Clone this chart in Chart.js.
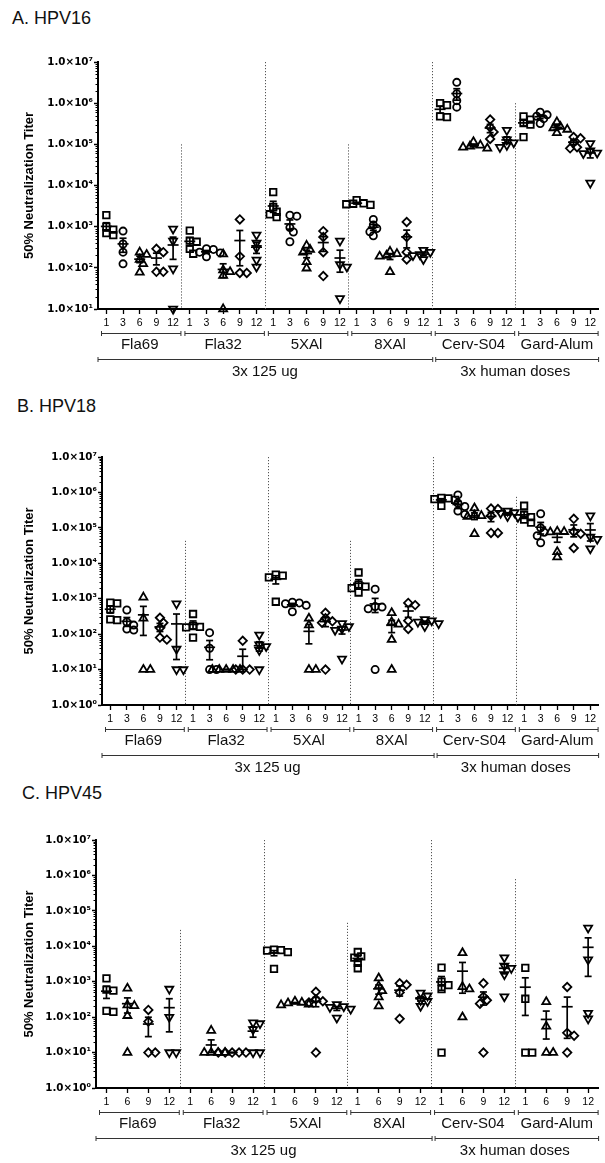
<!DOCTYPE html>
<html><head><meta charset="utf-8">
<script src="https://cdn.jsdelivr.net/npm/chart.js@4"></script>
<style>
html,body{margin:0;padding:0;background:#fff;width:605px;height:1163px;overflow:hidden;position:relative}
canvas{position:absolute;left:0}
.ttl{position:absolute;font-family:"Liberation Sans",Arial,sans-serif;font-size:18px;line-height:18px;color:#111;white-space:nowrap}
</style></head><body>
<div class="ttl" style="left:12px;top:9px">A. HPV16</div>
<div class="ttl" style="left:17px;top:397px">B. HPV18</div>
<div class="ttl" style="left:22px;top:784px">C. HPV45</div>
<canvas id="cA" width="605" height="337" style="top:48px"></canvas>
<canvas id="cB" width="605" height="338" style="top:443px"></canvas>
<canvas id="cC" width="605" height="338" style="top:826px"></canvas>
<script>
// ---------------- DATA ----------------
const groups = ['Fla69', 'Fla32', '5XAl', '8XAl', 'Cerv-S04', 'Gard-Alum'];
const wideLabels = ['3x 125 ug', '3x human doses'];
const monthsAB = ['1', '3', '6', '9', '12'];
const monthsC = ['1', '6', '9', '12'];
const yTicksA = [1e1, 1e2, 1e3, 1e4, 1e5, 1e6, 1e7];
const yTicksBC = [1e0, 1e1, 1e2, 1e3, 1e4, 1e5, 1e6, 1e7];

// A. HPV16 — titers per month (1,3,6,9,12) per group
const hpv16_Fla69 = [[1900,1000,850,700,620],[780,380,240,125],[240,210,160,125,78],[290,240,80,80],[880,450,95,10]];
const hpv16_Fla32 = [[800,460,430,290,220],[290,280,240,230,185],[215,88,80,65,10],[1500,190,75,75],[630,400,300,155,105]];
const hpv16_5XAl = [[6900,3000,2300,2000,1700],[1900,1800,950,740,430],[350,280,240,140,98],[780,560,240,63],[450,120,105,18]];
const hpv16_8XAl = [[4400,3700,3600,3500,3400],[1500,1100,900,750,600],[250,220,200,190,80],[1300,560,240,160],[270,240,210,200,160]];
const hpv16_Cerv = [[1000000,900000,480000,460000],[3200000,1700000,1150000,800000],[115000,95000,90000,85000,80000],[400000,260000,200000,135000],[220000,130000,110000,95000,85000]];
const hpv16_Gard = [[480000,400000,330000,300000,150000],[600000,520000,480000,420000,320000],[350000,270000,250000,230000,190000],[150000,140000,110000,85000,80000],[105000,70000,62000,60000,11500]];
const hpv16_dividerTops = [1e5, 1e7, 1e5, 1e7, 1e6];

// B. HPV18
const hpv18_Fla69 = [[780,740,500,260,250],[480,220,180,140,130],[1100,280,10,10],[290,210,150,80,70],[720,38,10,10]];
const hpv18_Fla32 = [[370,170,160,155,80],[110,40,10,10],[10,10,10,10,10],[65,10,10,10],[95,50,45,35,10]];
const hpv18_5XAl = [[4800,4500,4000,820],[800,760,720,650,430],[280,180,10,10],[400,280,230,210,10],[200,165,140,130,20]];
const hpv18_8XAl = [[5500,2500,2200,2000,1500],[1860,600,580,520,10],[400,220,190,70,10],[760,660,240,140],[260,240,220,200,165]];
const hpv18_Cerv = [[700000,680000,650000,620000,420000],[850000,500000,400000,300000,240000],[360000,230000,220000,210000,68000],[350000,340000,220000,72000,72000],[300000,270000,260000,210000,200000]];
const hpv18_Gard = [[420000,240000,200000,170000,140000],[250000,100000,75000,60000,38000],[80000,78000,76000,21000,15000],[180000,78000,68000,27000],[220000,55000,48000,26000]];
const hpv18_dividerTops = [4.3e4, 1e7, 4.3e4, 1e7, 7.5e5];

// C. HPV45 — months 1,6,9,12
const hpv45_Fla69 = [[1250,600,560,150,140],[650,220,210,110,10],[160,75,10,10],[620,100,10,10]];
const hpv45_Fla32 = [[],[42,10,10,10,10],[10,10,10,10,10],[70,66,45,10,10]];
const hpv45_5XAl = [[8000,7800,7500,6800,2300],[280,260,250,230,220],[520,320,280,260,10],[230,200,190,170,95]];
const hpv45_8XAl = [[6900,5200,4800,3400,2400],[1260,760,550,370,205],[900,820,500,90],[480,400,300,280,205]];
const hpv45_Cerv = [[2500,1000,800,620,10],[6500,720,620,100],[900,380,300,240,10],[4800,2800,2400,1600,380]];
const hpv45_Gard = [[2450,330,10,10],[270,55,10,10],[710,36,30,10],[33000,4200,130,90]];
const hpv45_dividerTops = [2.9e4, 1e7, 4.6e4, 1e7, 7.9e5];

// ---------------- DRAWING ----------------
const FONT = '"Liberation Sans", Arial, sans-serif';
const SUP = {'0':'⁰','1':'¹','2':'²','3':'³','4':'⁴','5':'⁵','6':'⁶','7':'⁷','8':'⁸','9':'⁹'};
const SHAPES = {'1':['rect',4.6,0],'3':['circle',3.6,0],'6':['triangle',4.6,0],'9':['rectRot',4.2,0],'12':['triangle',4.6,180]};

function swarm(slots, pxDec, slotPx) {
  const STEP = 3.5, D = 5, MAXK = 4;
  return slots.map(vals => {
    const placed = [];
    return vals.map(v => {
      const y = Math.log10(v) * pxDec;
      let best = 0, bestD = -1;
      for (let k = 0; k <= MAXK * 2; k++) {
        const c = k === 0 ? 0 : (k % 2 ? 1 : -1) * Math.ceil(k / 2) * STEP;
        const md = placed.length ? Math.min(...placed.map(p => Math.hypot(p.x - c, p.y - y))) : Infinity;
        if (md >= D) { best = c; bestD = md; break; }
        if (md > bestD) { bestD = md; best = c; }
      }
      placed.push({x: best, y});
      return best / slotPx;
    });
  });
}

function line(ctx, x1, y1, x2, y2) { ctx.beginPath(); ctx.moveTo(x1, y1); ctx.lineTo(x2, y2); ctx.stroke(); }

const dividerPlugin = {
  id: 'dividers',
  beforeDatasetsDraw(chart, args, opts) {
    const xs = chart.scales.xl, ys = chart.scales.y, ctx = chart.ctx;
    ctx.save(); ctx.strokeStyle = '#555'; ctx.lineWidth = 1; ctx.setLineDash([1.2, 1.8]);
    opts.tops.forEach((t, i) => {
      const x = Math.round(xs.getPixelForValue((i + 1) * opts.per)) + 0.5;
      line(ctx, x, ys.getPixelForValue(t), x, ys.bottom);
    });
    ctx.restore();
  }
};

const errPlugin = {
  id: 'errbars',
  afterDatasetsDraw(chart, args, opts) {
    const xs = chart.scales.xl, ys = chart.scales.y, ctx = chart.ctx;
    ctx.save(); ctx.strokeStyle = '#000'; ctx.lineWidth = 1.7;
    opts.slots.forEach((vals, s) => {
      if (vals.length < 2) return;
      const mean = vals.reduce((a, b) => a + b, 0) / vals.length;
      const sd = Math.sqrt(vals.reduce((a, b) => a + (b - mean) ** 2, 0) / (vals.length - 1));
      const sem = sd / Math.sqrt(vals.length);
      const x = xs.getPixelForValue(s + 0.5);
      const lo = Math.max(mean - sem, ys.min), hi = mean + sem;
      const ym = ys.getPixelForValue(mean), yl = ys.getPixelForValue(lo), yh = ys.getPixelForValue(hi);
      line(ctx, x - 5.5, ym, x + 5.5, ym);
      line(ctx, x, yh, x, yl);
      line(ctx, x - 3.5, yh, x + 3.5, yh);
      line(ctx, x - 3.5, yl, x + 3.5, yl);
    });
    ctx.restore();
  }
};

const annoPlugin = {
  id: 'anno',
  afterDraw(chart, args, opts) {
    const xs = chart.scales.xl, ys = chart.scales.y, ctx = chart.ctx;
    ctx.save();
    ctx.strokeStyle = '#000'; ctx.lineWidth = 1;
    const e0 = Math.round(Math.log10(ys.min)), e1 = Math.round(Math.log10(ys.max));
    for (let e = e0; e < e1; e++) for (let k = 2; k <= 9; k++) {
      const y = Math.round(ys.getPixelForValue(k * Math.pow(10, e))) + 0.5;
      line(ctx, ys.right - 2.5, y, ys.right, y);
    }
    const b = ys.bottom;
    ctx.strokeStyle = '#333'; ctx.lineWidth = 1;
    ctx.fillStyle = '#111'; ctx.textAlign = 'center'; ctx.textBaseline = 'middle';
    ctx.font = '15px ' + FONT;
    const br = (x1, x2, y) => { line(ctx, x1, y, x2, y); line(ctx, x1, y - 2.5, x1, y + 2.5); line(ctx, x2, y - 2.5, x2, y + 2.5); };
    groups.forEach((g, i) => {
      const xL = xs.getPixelForValue(i * opts.per), xR = xs.getPixelForValue((i + 1) * opts.per);
      br(xL + 3.5, xR - 0.5, Math.round(b + 24) + 0.5);
      ctx.fillText(g, (xL + xR) / 2, b + 36);
    });
    const split = xs.getPixelForValue(4 * opts.per);
    const yW = Math.round(b + 50) + 0.5;
    br(xs.getPixelForValue(0), split + 1, yW);
    br(split + 4, xs.getPixelForValue(6 * opts.per), yW);
    ctx.fillText(wideLabels[0], (xs.getPixelForValue(0) + split) / 2, b + 63);
    ctx.fillText(wideLabels[1], (split + xs.getPixelForValue(6 * opts.per)) / 2, b + 63);
    ctx.restore();
  }
};

function fmt(v) {
  const e = Math.round(Math.log10(v));
  return '1.0×10' + String(e).split('').map(c => SUP[c]).join('');
}

function makeChart(id, cfg) {
  const months = cfg.months, per = months.length, n = per * groups.length;
  const xLabels = [];
  groups.forEach(() => xLabels.push(...months));
  const slots = [];
  cfg.data.forEach(grp => grp.forEach(s => slots.push(s)));
  const decades = Math.log10(cfg.yTicks[cfg.yTicks.length - 1] / cfg.yTicks[0]);
  const offs = swarm(slots, cfg.plotH / decades, cfg.plotW / n);
  const datasets = months.map((m, mi) => {
    const st = SHAPES[m];
    const pts = [];
    cfg.data.forEach((grp, gi) => {
      const s = gi * per + mi;
      grp[mi].forEach((v, i) => pts.push({x: s + 0.5 + offs[s][i], y: v}));
    });
    return {label: m, data: pts, xAxisID: 'xl', yAxisID: 'y', pointStyle: st[0], pointRadius: st[1],
      pointRotation: st[2], pointBorderColor: '#000', pointBackgroundColor: 'rgba(0,0,0,0)',
      pointBorderWidth: 1.8, showLine: false, clip: false};
  });
  return new Chart(document.getElementById(id), {
    type: 'scatter',
    data: {labels: xLabels, datasets},
    plugins: [dividerPlugin, errPlugin, annoPlugin],
    options: {
      responsive: false, animation: false, devicePixelRatio: 1,
      layout: {padding: {top: 14, right: 1, left: 0, bottom: 0}},
      plugins: {
        legend: {display: false}, tooltip: {enabled: false},
        dividers: {tops: cfg.dividers, per},
        errbars: {slots},
        anno: {per}
      },
      scales: {
        x: {type: 'category', labels: xLabels, offset: true, position: 'bottom',
          grid: {drawOnChartArea: false, drawTicks: true, tickLength: 5, tickColor: '#000', tickWidth: 1.3, offset: false},
          border: {display: true, color: '#000', width: 2},
          ticks: {color: '#000', font: {family: FONT, size: 10.5}, padding: 3, autoSkip: false, maxRotation: 0, minRotation: 0},
          afterFit: s => { s.height = cfg.xh; }},
        xl: {type: 'linear', display: false, min: 0, max: n, position: 'bottom'},
        y: {type: 'logarithmic', position: 'left', min: cfg.yTicks[0], max: cfg.yTicks[cfg.yTicks.length - 1],
          afterBuildTicks: s => { s.ticks = cfg.yTicks.map(v => ({value: v})); },
          ticks: {callback: v => fmt(v), color: '#000', font: {family: '"DejaVu Sans", sans-serif', size: 10.3, weight: 'bold'}, padding: 1, autoSkip: false},
          grid: {drawOnChartArea: false, tickLength: 4, tickColor: '#000', tickWidth: 1.5},
          border: {color: '#000', width: 2},
          title: {display: true, text: '50% Neutralization Titer', color: '#000',
            font: {family: FONT, size: 13, weight: 'bold'}, padding: {top: 22, bottom: 0}},
          afterFit: s => { s.width = cfg.left; }}
      }
    }
  });
}

makeChart('cA', {months: monthsAB, yTicks: yTicksA, left: 98, plotW: 506, plotH: 247, xh: 76,
  data: [hpv16_Fla69, hpv16_Fla32, hpv16_5XAl, hpv16_8XAl, hpv16_Cerv, hpv16_Gard], dividers: hpv16_dividerTops});
makeChart('cB', {months: monthsAB, yTicks: yTicksBC, left: 102, plotW: 502, plotH: 248, xh: 76,
  data: [hpv18_Fla69, hpv18_Fla32, hpv18_5XAl, hpv18_8XAl, hpv18_Cerv, hpv18_Gard], dividers: hpv18_dividerTops});
makeChart('cC', {months: monthsC, yTicks: yTicksBC, left: 96, plotW: 508, plotH: 248, xh: 76,
  data: [hpv45_Fla69, hpv45_Fla32, hpv45_5XAl, hpv45_8XAl, hpv45_Cerv, hpv45_Gard], dividers: hpv45_dividerTops});
</script>
</body></html>
